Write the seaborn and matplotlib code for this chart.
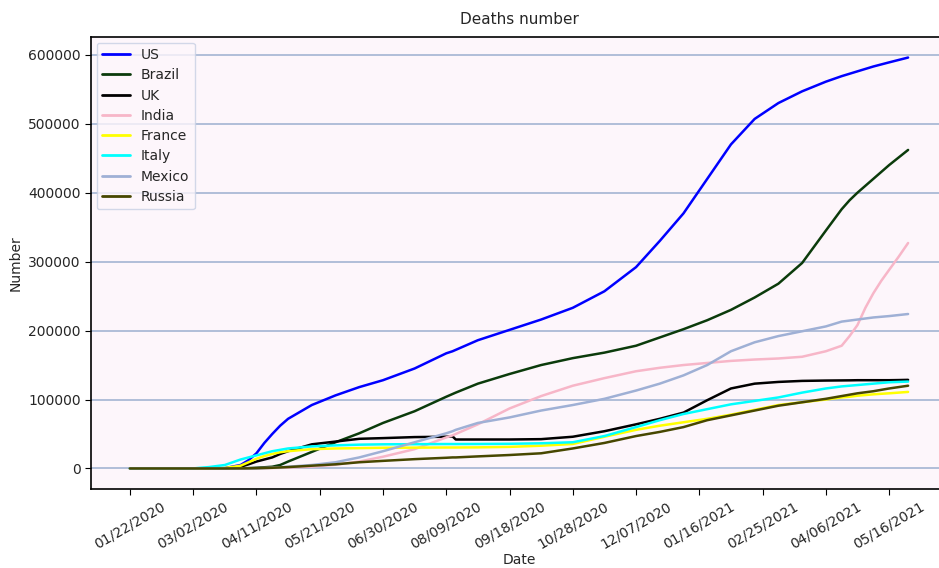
import matplotlib
matplotlib.use("Agg")
import matplotlib.pyplot as plt
import matplotlib.dates as mdates
import pandas as pd
import seaborn as sns

# Sampled reporting dates (cumulative deaths)
dates = [
    "2020-01-22", "2020-02-21", "2020-03-02", "2020-03-12", "2020-03-22",
    "2020-04-01", "2020-04-06", "2020-04-11", "2020-04-16", "2020-04-21",
    "2020-04-26", "2020-05-01", "2020-05-16", "2020-05-31", "2020-06-15",
    "2020-06-30", "2020-07-20", "2020-08-09", "2020-08-13", "2020-08-15",
    "2020-08-29", "2020-09-18", "2020-10-08", "2020-10-28", "2020-11-17",
    "2020-12-07", "2020-12-22", "2021-01-06", "2021-01-21", "2021-02-05",
    "2021-02-20", "2021-03-07", "2021-03-22", "2021-04-06", "2021-04-16",
    "2021-04-21", "2021-04-26", "2021-05-01", "2021-05-06", "2021-05-11",
    "2021-05-16", "2021-05-22", "2021-05-28",
]

us = [0, 0, 0, 40, 500, 5000, 12000, 22000, 37000, 50000,
      62000, 72000, 92000, 106000, 118000, 128000, 145000, 167000, 170000, 172000,
      186000, 201000, 216000, 233000, 257000, 292000, 330000, 370000, 420000, 470000,
      507000, 530000, 547000, 561000, 569000, 572500, 576000, 579500, 583000, 586000,
      589000, 592500, 596000]

brazil = [0, 0, 0, 0, 0, 200, 500, 1000, 1700, 2500,
          5000, 10000, 24000, 38000, 51000, 66000, 83000, 104000, 108000, 110000,
          123000, 137000, 150000, 160000, 168000, 178000, 190000, 202000, 215000, 230000,
          248000, 268000, 298000, 345000, 376000, 389000, 400000, 410000, 420000, 430000,
          440000, 451000, 462000]

uk = [0, 0, 0, 0, 200, 2500, 6000, 10000, 13000, 16000,
      21000, 25000, 35000, 39000, 43000, 44000, 45500, 46000, 46500, 42000,
      42000, 42000, 42500, 46000, 54000, 64000, 72000, 81000, 99000, 116000,
      123000, 125500, 127000, 127500, 127700, 127800, 128000, 128000, 128000, 128000,
      128000, 128200, 128500]

india = [0, 0, 0, 0, 10, 50, 100, 300, 450, 600,
         900, 1200, 2700, 5400, 10000, 17000, 28000, 45000, 48000, 50000,
         64000, 87000, 105000, 120000, 131000, 141000, 146000, 150000, 153000, 156000,
         158000, 159500, 162000, 170000, 178000, 192000, 208000, 233000, 254000, 272000,
         288000, 307000, 327000]

france = [0, 0, 0, 50, 700, 4000, 9000, 14000, 18000, 21000,
          23500, 25000, 28000, 29000, 29500, 30000, 30200, 30400, 30400, 30400,
          30600, 31300, 33000, 35500, 46000, 56000, 62000, 67000, 72000, 78000,
          85000, 92000, 96000, 100000, 103000, 104000, 105500, 106500, 107500, 108300,
          109000, 110000, 111000]

italy = [0, 0, 50, 2000, 5000, 13000, 16000, 19000, 22000, 25000,
         27000, 29000, 32000, 33500, 34500, 35000, 35200, 35400, 35400, 35400,
         35500, 35800, 36500, 38000, 47000, 60000, 70000, 79000, 86000, 93000,
         98000, 103000, 110000, 116000, 119000, 120000, 121000, 122000, 123000, 124000,
         125000, 125500, 126000]

mexico = [0, 0, 0, 0, 0, 30, 100, 200, 600, 1000,
          1700, 2500, 5000, 9000, 16000, 25000, 38000, 51000, 54000, 56000,
          66000, 74000, 84000, 92000, 101000, 113000, 123000, 135000, 150000, 170000,
          183000, 192000, 199000, 206000, 213000, 214500, 216000, 217500, 219000, 220000,
          221000, 222500, 224000]

russia = [0, 0, 0, 0, 0, 100, 200, 400, 700, 1000,
          1500, 2000, 4000, 6000, 9000, 11000, 13500, 15500, 16000, 16000,
          17500, 19500, 22000, 29000, 37000, 47000, 53000, 60000, 70000, 77000,
          84000, 91000, 96000, 101000, 105000, 107000, 109000, 110500, 112000, 114000,
          116000, 118000, 120000]

countries = ["US", "Brazil", "UK", "India", "France", "Italy", "Mexico", "Russia"]
series = [us, brazil, uk, india, france, italy, mexico, russia]
colors = ["#0000ff", "#0b3b0b", "#000000", "#f7b6c8",
          "#ffff00", "#00ffff", "#9fb0d5", "#474700"]

tick_dates = ["2020-01-22", "2020-03-02", "2020-04-11", "2020-05-21",
              "2020-06-30", "2020-08-09", "2020-09-18", "2020-10-28",
              "2020-12-07", "2021-01-16", "2021-02-25", "2021-04-06",
              "2021-05-16"]

frames = []
for name, vals in zip(countries, series):
    frames.append(pd.DataFrame({"Date": pd.to_datetime(dates),
                                "Number": vals, "Country": name}))
df = pd.concat(frames, ignore_index=True)

sns.set_style("white")
plt.rcParams["font.family"] = ["DejaVu Sans"]

fig = plt.figure(figsize=(9.39, 5.68), dpi=100)
ax = fig.add_axes([91 / 939, 79 / 568, 856 / 939, 452 / 568])
ax.set_facecolor("#fdf6fb")

sns.lineplot(data=df, x="Date", y="Number", hue="Country",
             hue_order=countries, palette=colors, linewidth=1.8, ax=ax)

ax.grid(axis="y", color="#a3b4d3", linewidth=1.2)
ax.grid(axis="x", visible=False)
ax.set_axisbelow(True)
for s in ax.spines.values():
    s.set_color("black")
    s.set_linewidth(1.2)

ax.set_xticks(pd.to_datetime(tick_dates))
ax.xaxis.set_major_formatter(mdates.DateFormatter("%m/%d/%Y"))
plt.setp(ax.get_xticklabels(), rotation=30, ha="center")
ax.tick_params(axis="both", labelsize=10, length=4, color="black",
               bottom=True, left=True)
ax.set_xlabel("Date", fontsize=10, labelpad=1)
ax.set_ylabel("Number", fontsize=10)
ax.set_title("Deaths number", fontsize=11, pad=9)

leg = ax.legend(loc="upper left", fontsize=10, frameon=True,
                labelspacing=0.45, borderaxespad=0.4)
leg.get_frame().set_edgecolor("#c8d0e4")
leg.get_frame().set_facecolor("#fdf6fb")
for line in leg.get_lines():
    line.set_linewidth(2)

fig.savefig("out.png", dpi=100)
